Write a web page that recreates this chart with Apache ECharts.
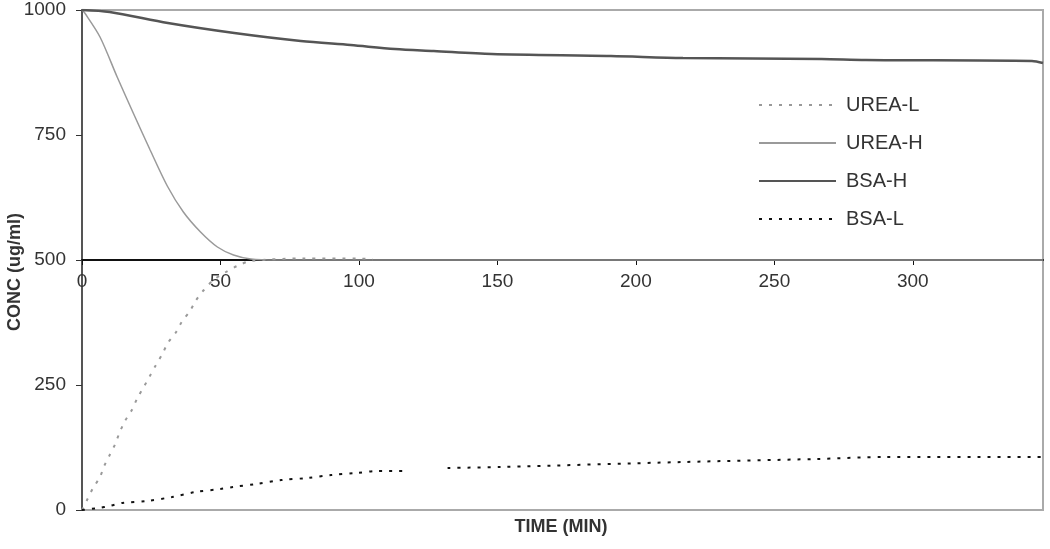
<!DOCTYPE html>
<html>
<head>
<meta charset="utf-8">
<script src="https://cdn.jsdelivr.net/npm/echarts@6/dist/echarts.min.js"></script>
<style>
  html, body { margin: 0; padding: 0; background: #fff; }
  #chart { width: 1050px; height: 549px; }
</style>
</head>
<body>
<div id="chart"></div>
<script>
// time (min) and concentration (ug/ml)
const ureaLTime = [0, 2, 4, 6.5, 8, 10, 12, 13.5, 15.5, 18, 20, 22.5, 24.5, 26.5, 29, 31, 34, 36, 39, 41, 44, 47.5, 52, 56, 61, 80, 100, 105];
const ureaLConc = [0, 22, 44, 66, 88, 110, 132, 154, 178, 200, 224, 248, 268, 288, 312, 334, 356, 376, 398, 418, 440, 460, 476, 488, 498, 503, 503, 501];

const ureaHTime = [0, 1, 6.5, 12.7, 18.5, 24.6, 30.8, 36.6, 42.8, 48.9, 54.7, 61, 70, 347];
const ureaHConc = [1000, 994, 946, 866, 794, 720, 648, 596, 556, 526, 510, 502, 500, 500];

const bsaHTime = [0, 10, 31, 55, 79, 97, 113, 127, 148, 191, 217, 267, 283, 343, 347];
const bsaHConc = [1000, 996, 974, 954, 938, 930, 922, 918, 912, 908, 904, 902, 900, 898, 894];

const bsaLTime = [0, 6, 10, 14.5, 23.5, 32.5, 41, 50, 54.5, 63, 72, 81.5, 90, 99, 107, 117, 124, 132, 151, 217, 265, 290, 347];
const bsaLConc = [0, 4, 8, 14, 18, 26, 36, 42, 46, 52, 60, 64, 70, 74, 78, 78, null, 84, 86, 96, 102, 106, 106];

const xTicks = [0, 50, 100, 150, 200, 250, 300];
const yTicks = [0, 250, 500, 750, 1000];
const xMax = 347;

function pairs(t, v) {
  return t.map((x, i) => [x, v[i] == null ? '-' : v[i]]);
}

const font = "Arial, 'Liberation Sans', sans-serif";

const chart = echarts.init(document.getElementById("chart"));
const option = {
  animation: false,
  grid: [
    {
      left: 82,
      right: 7,
      top: 10,
      bottom: 39,
      outerBoundsMode: "none",
      containLabel: false,
      show: true,
      borderColor: "#aaa",
      borderWidth: 2,
      backgroundColor: "#fff"
    },
    {
      // upper half only: its bottom edge carries the time axis at 500
      left: 82,
      right: 7,
      top: 10,
      height: 250,
      outerBoundsMode: "none",
      containLabel: false
    }
  ],
  legend: {
    orient: "vertical",
    left: 753,
    top: 90,
    itemWidth: 77,
    itemHeight: 20,
    itemGap: 18,
    itemStyle: { opacity: 0 },
    textStyle: { fontFamily: font, fontSize: 20, color: "#333", padding: [0, 0, 0, 5] },
    data: ["UREA-L", "UREA-H", "BSA-H", "BSA-L"]
  },
  graphic: [
    {
      type: "text",
      x: 561,
      y: 527,
      style: { text: "TIME (MIN)", font: "bold 18px " + font, fill: "#333", align: "center", verticalAlign: "middle" }
    },
    {
      type: "text",
      x: 15,
      y: 272,
      rotation: Math.PI / 2,
      style: { text: "CONC (ug/ml)", font: "bold 18px " + font, fill: "#333", align: "center", verticalAlign: "middle" }
    }
  ],
  xAxis: [
    {
      gridIndex: 0,
      type: "value",
      min: 0,
      max: xMax,
      interval: 50,
      show: false
    },
    {
      gridIndex: 1,
      type: "value",
      min: 0,
      max: xMax,
      interval: 50,
      axisLine: { onZero: false, lineStyle: { color: "#111", width: 2 } },
      axisTick: { show: true, length: 5, lineStyle: { color: "#111" } },
      axisLabel: {
        fontFamily: font,
        fontSize: 19,
        color: "#333",
        margin: 12,
        showMaxLabel: false,
        formatter: v => (xTicks.includes(v) ? String(v) : "")
      },
      splitLine: { show: false }
    }
  ],
  yAxis: [
    {
      gridIndex: 0,
      type: "value",
      min: 0,
      max: 1000,
      interval: 250,
      axisLine: { show: true, lineStyle: { color: "#555", width: 2 } },
      axisTick: { show: true, length: 6, lineStyle: { color: "#333" } },
      axisLabel: {
        fontFamily: font,
        fontSize: 19,
        color: "#333",
        margin: 16,
        formatter: v => (yTicks.includes(v) ? String(v) : "")
      },
      splitLine: { show: false }
    },
    {
      gridIndex: 1,
      type: "value",
      min: 500,
      max: 1000,
      show: false
    }
  ],
  series: [
    {
      name: "UREA-L",
      type: "line",
      smooth: 0.3,
      symbol: "none",
      lineStyle: { color: "#999", width: 2, type: [3, 7] },
      itemStyle: { color: "#999" },
      data: pairs(ureaLTime, ureaLConc)
    },
    {
      name: "UREA-H",
      type: "line",
      smooth: 0.3,
      symbol: "none",
      lineStyle: { color: "#9a9a9a", width: 1.5 },
      itemStyle: { color: "#9a9a9a" },
      data: pairs(ureaHTime, ureaHConc)
    },
    {
      name: "BSA-H",
      type: "line",
      smooth: 0.3,
      symbol: "none",
      lineStyle: { color: "#555", width: 2.5 },
      itemStyle: { color: "#555" },
      data: pairs(bsaHTime, bsaHConc)
    },
    {
      name: "BSA-L",
      type: "line",
      smooth: 0.3,
      symbol: "none",
      connectNulls: false,
      lineStyle: { color: "#111", width: 2, type: [3, 7] },
      itemStyle: { color: "#111" },
      data: pairs(bsaLTime, bsaLConc)
    }
  ]
};
chart.setOption(option);
</script>
</body>
</html>
